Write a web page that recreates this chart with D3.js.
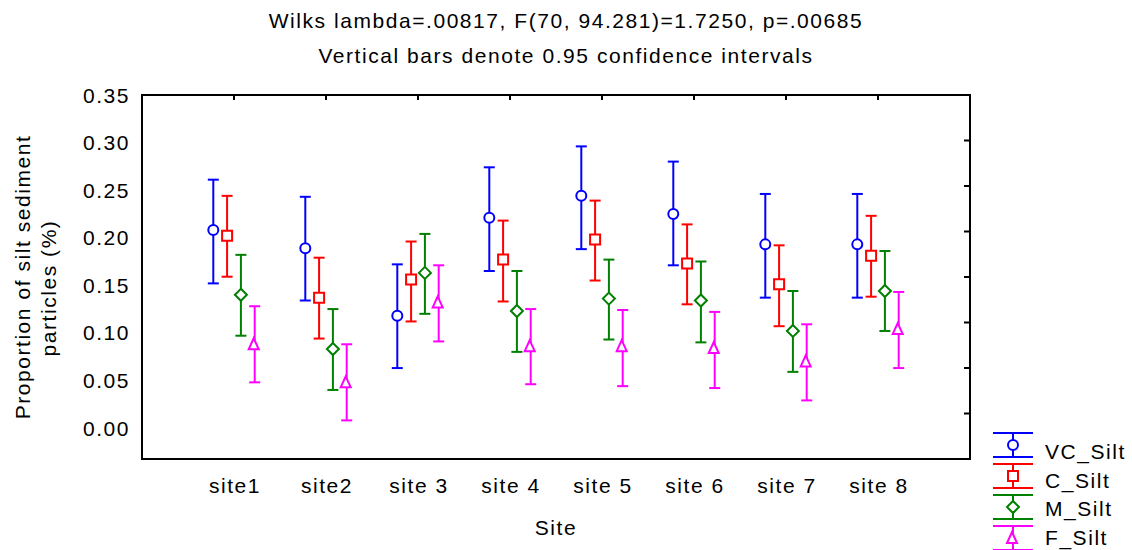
<!DOCTYPE html>
<meta charset="utf-8">
<script src="https://d3js.org/d3.v7.min.js"></script>
<style>
  body { margin: 0; background: #fff; }
  svg { font-family: "Liberation Sans", Arial, sans-serif; }
  svg text { font-size: 21px; letter-spacing: 1.55px; }
</style>
<div id="chart"></div>
<script>

var sites = ["site1", "site2", "site 3", "site 4", "site 5", "site 6", "site 7", "site 8"];
var seriesNames = ["VC_Silt", "C_Silt", "M_Silt", "F_Silt"];
var yTicks = [0, 0.05, 0.10, 0.15, 0.20, 0.25, 0.30, 0.35];

var vcMean = [0.208, 0.189, 0.118, 0.221, 0.244, 0.225, 0.193, 0.193];
var vcLow  = [0.152, 0.134, 0.063, 0.165, 0.188, 0.171, 0.137, 0.137];
var vcHigh = [0.261, 0.243, 0.172, 0.274, 0.296, 0.280, 0.246, 0.246];

var cMean = [0.202, 0.137, 0.156, 0.177, 0.198, 0.173, 0.151, 0.181];
var cLow  = [0.159, 0.094, 0.112, 0.133, 0.155, 0.130, 0.107, 0.138];
var cHigh = [0.244, 0.179, 0.196, 0.218, 0.239, 0.214, 0.192, 0.223];

var mMean = [0.140, 0.083, 0.163, 0.123, 0.136, 0.134, 0.102, 0.144];
var mLow  = [0.097, 0.040, 0.120, 0.080, 0.093, 0.090, 0.059, 0.102];
var mHigh = [0.182, 0.125, 0.204, 0.165, 0.177, 0.175, 0.144, 0.186];

var fMean = [0.088, 0.048, 0.132, 0.086, 0.086, 0.084, 0.070, 0.104];
var fLow  = [0.048, 0.008, 0.091, 0.046, 0.044, 0.042, 0.029, 0.063];
var fHigh = [0.128, 0.088, 0.171, 0.125, 0.124, 0.122, 0.109, 0.143];

var colors = ["#0000ff", "#ff0000", "#008000", "#ff00ff"];
var markers = ["circle", "square", "diamond", "triangle"];

var series = [
  {name: seriesNames[0], mean: vcMean, low: vcLow, high: vcHigh},
  {name: seriesNames[1], mean: cMean, low: cLow, high: cHigh},
  {name: seriesNames[2], mean: mMean, low: mLow, high: mHigh},
  {name: seriesNames[3], mean: fMean, low: fLow, high: fHigh}
];

var W = 1132, H = 550;
var box = {left: 142, right: 970, top: 95, bottom: 459};

var svg = d3.select("#chart").append("svg")
  .attr("width", W).attr("height", H);

var x = d3.scalePoint().domain(sites).range([box.left, box.right]).padding(1);
var dx = d3.scalePoint().domain(seriesNames).range([-20.7, 20.7]);
var y = d3.scaleLinear().domain([0, 0.35]).range([428, box.top]);
// the frame's right-hand ticks use their own spacing in the original
var yFrame = d3.scaleLinear().domain([-0.05, 0.35]).range([box.bottom, box.top]);

function markerPath(type, cx, cy) {
  var p = d3.path();
  if (type == "circle") {
    p.moveTo(cx + 5, cy); p.arc(cx, cy, 5, 0, 2 * Math.PI);
  } else if (type == "square") {
    p.rect(cx - 5, cy - 5, 10, 10);
  } else if (type == "diamond") {
    p.moveTo(cx, cy - 6); p.lineTo(cx + 6, cy); p.lineTo(cx, cy + 6); p.lineTo(cx - 6, cy); p.closePath();
  } else {
    p.moveTo(cx - 1, cy - 6); p.lineTo(cx + 4, cy + 5); p.lineTo(cx - 6, cy + 5); p.closePath();
  }
  return p.toString();
}

// titles
svg.append("text").attr("x", W / 2).attr("y", 28).attr("text-anchor", "middle")
  .text("Wilks lambda=.00817, F(70, 94.281)=1.7250, p=.00685");
svg.append("text").attr("x", W / 2).attr("y", 63).attr("text-anchor", "middle")
  .text("Vertical bars denote 0.95 confidence intervals");

// frame
svg.append("rect").attr("x", box.left).attr("y", box.top)
  .attr("width", box.right - box.left).attr("height", box.bottom - box.top)
  .attr("fill", "none").attr("stroke", "#000").attr("stroke-width", 2);

// top ticks, inward
svg.append("g").selectAll("line").data(sites).join("line")
  .attr("x1", function(d) { return x(d); }).attr("x2", function(d) { return x(d); })
  .attr("y1", box.top).attr("y2", box.top + 5)
  .attr("stroke", "#000").attr("stroke-width", 2);

// right ticks, inward
svg.append("g").selectAll("line").data(yTicks.slice(0, 7)).join("line")
  .attr("x1", box.right - 6).attr("x2", box.right)
  .attr("y1", function(d) { return yFrame(d); }).attr("y2", function(d) { return yFrame(d); })
  .attr("stroke", "#000").attr("stroke-width", 2);

// y tick labels
svg.append("g").selectAll("text").data(yTicks).join("text")
  .attr("x", 130).attr("y", function(d) { return y(d); })
  .attr("dy", "0.36em").attr("text-anchor", "end")
  .text(function(d) { return d3.format(".2f")(d); });

// x tick labels
svg.append("g").selectAll("text").data(sites).join("text")
  .attr("x", function(d) { return x(d) + 1; }).attr("y", 493)
  .attr("text-anchor", "middle")
  .text(function(d) { return d; });

svg.append("text").attr("x", 556).attr("y", 535).attr("text-anchor", "middle")
  .text("Site");

svg.append("text").attr("transform", "translate(0,277) rotate(-90)")
  .attr("text-anchor", "middle").attr("y", 30).text("Proportion of silt sediment");
svg.append("text").attr("transform", "translate(0,288) rotate(-90)")
  .attr("text-anchor", "middle").attr("y", 56).text("particles (%)");

// error bars + markers
series.forEach(function(s, k) {
  var g = svg.append("g").attr("stroke", colors[k]).attr("stroke-width", 2).attr("fill", "none");
  var idx = d3.range(sites.length);
  var cx = function(i) { return x(sites[i]) + dx(s.name); };
  g.selectAll(".v").data(idx).join("line")
    .attr("x1", cx).attr("x2", cx)
    .attr("y1", function(i) { return y(s.low[i]); })
    .attr("y2", function(i) { return y(s.high[i]); });
  g.selectAll(".capt").data(idx).join("line")
    .attr("x1", function(i) { return cx(i) - 5.5; }).attr("x2", function(i) { return cx(i) + 5.5; })
    .attr("y1", function(i) { return y(s.high[i]); }).attr("y2", function(i) { return y(s.high[i]); });
  g.selectAll(".capb").data(idx).join("line")
    .attr("x1", function(i) { return cx(i) - 5.5; }).attr("x2", function(i) { return cx(i) + 5.5; })
    .attr("y1", function(i) { return y(s.low[i]); }).attr("y2", function(i) { return y(s.low[i]); });
  g.selectAll("path").data(idx).join("path")
    .attr("fill", "#fff")
    .attr("d", function(i) { return markerPath(markers[k], cx(i), y(s.mean[i])); });
});

// legend
var leg = svg.append("g").selectAll("g").data(series).join("g")
  .attr("transform", function(d, k) { return "translate(1013," + (445 + k * 31) + ")"; });
leg.each(function(d, k) {
  var g = d3.select(this);
  g.append("line").attr("x1", -20).attr("x2", 20).attr("y1", -12).attr("y2", -12)
    .attr("stroke", colors[k]).attr("stroke-width", 2);
  g.append("line").attr("x1", -20).attr("x2", 20).attr("y1", 12).attr("y2", 12)
    .attr("stroke", colors[k]).attr("stroke-width", 2);
  g.append("line").attr("x1", 0).attr("x2", 0).attr("y1", -12).attr("y2", 12)
    .attr("stroke", colors[k]).attr("stroke-width", 2);
  g.append("path").attr("d", markerPath(markers[k], 0, 0))
    .attr("fill", "#fff").attr("stroke", colors[k]).attr("stroke-width", 2);
  g.append("text").attr("x", 32).attr("y", 14 - k * 2.3)
    .attr("fill", "#000").text(d.name);
});
</script>
